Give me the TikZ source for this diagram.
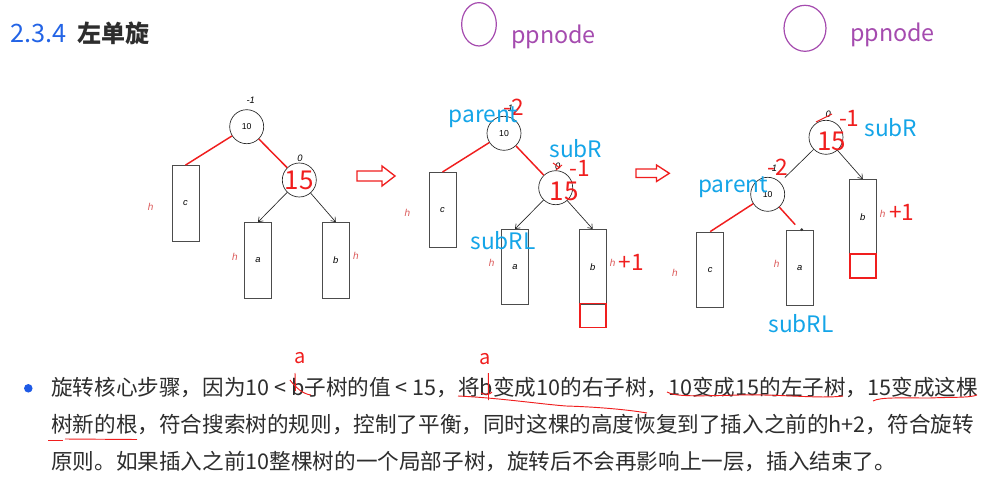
\documentclass[tikz,border=0pt]{standalone}
\usepackage{fontspec}
\setmainfont{Noto Sans CJK SC}
\newfontfamily\labfont{Liberation Sans}
\usetikzlibrary{arrows.meta,shapes.geometric}
\definecolor{txt}{RGB}{45,45,45}
\definecolor{titleblue}{RGB}{35,100,230}
\definecolor{sky}{RGB}{20,165,232}
\definecolor{ppl}{RGB}{165,75,175}
\definecolor{tred}{RGB}{240,30,30}
\definecolor{hred}{RGB}{220,90,90}
\definecolor{bullet}{RGB}{30,90,230}
\begin{document}
\begin{tikzpicture}[x=0.75pt,y=-0.75pt,
  circ/.style={circle, draw=black!85, line width=0.5pt, minimum size=25.5pt, inner sep=0pt, font=\labfont\fontsize{6.5}{7}\selectfont},
  sbox/.style={draw=black!70, line width=0.7pt, minimum width=20.3pt, minimum height=56.6pt, inner sep=0pt, font=\labfont\itshape\fontsize{7}{8}\selectfont},
  rsq/.style={draw=tred, line width=1.1pt, minimum width=19.5pt, minimum height=18pt, inner sep=0pt},
  hlab/.style={text=hred, inner sep=0pt, font=\labfont\itshape\fontsize{7.5}{8}\selectfont},
  bfl/.style={inner sep=0pt, font=\labfont\itshape\fontsize{7}{8}\selectfont},
  redl/.style={draw=tred, line width=1.1pt},
  blk/.style={draw=black!85, line width=0.5pt, -{Straight Barb[length=3pt,width=4.5pt]}},
  bigf/.style={text=tred, inner sep=0pt, font=\fontsize{19.5}{21}\selectfont},
  rnum/.style={text=tred, inner sep=0pt, font=\fontsize{17}{19}\selectfont},
  bluelab/.style={text=sky, inner sep=0pt, font=\fontsize{17}{19}\selectfont},
  pell/.style={ellipse, draw=ppl, line width=0.9pt, inner sep=0pt},
  pptext/.style={text=ppl, inner sep=0pt, font=\fontsize{17.5}{19}\selectfont},
  hollow/.style={draw=tred, line width=1pt, fill=white},
  redmark/.style={draw=tred, line width=0.7pt},
  body/.style={anchor=base west, inner sep=0pt, text=txt, font=\fontsize{16.2}{20}\selectfont}
]
\useasboundingbox (0,0) rectangle (983,493);
\fill[white] (0,0) rectangle (983,493);

% ---------- title ----------
\node[anchor=base west, inner sep=0pt, text=titleblue, font=\fontsize{19}{21}\selectfont] (tnum) at (10,42) {2.3.4};
\node[anchor=base west, inner sep=0pt, text=txt, font=\bfseries\fontsize{18}{21}\selectfont] (ttl) at (77,42) {左单旋};

% ---------- ppnode ----------
\node[pell, minimum width=26pt, minimum height=32.5pt] (pp1) at (479,24.3) {};
\node[pptext] (ppt1) at (553.5,37) {ppnode};
\node[pell, minimum width=31.5pt, minimum height=34.5pt] (pp2) at (805,28.3) {};
\node[pptext] (ppt2) at (892.5,35) {ppnode};

% ---------- tree 1 ----------
\node[circ] (t1p) at (246.7,126.7) {10};
\node[circ] (t1r) at (299.3,180) {};
\node[bigf] (t1rn) at (299.3,180) {15};
\node[sbox] (t1c) at (185.5,203.3) {c};
\node[sbox] (t1a) at (258,260.3) {a};
\node[sbox] (t1b) at (335.8,260.3) {b};
\node[bfl] (t1pf) at (250.7,100.7) {-1};
\node[bfl] (t1rf) at (300,158.7) {0};
\node[hlab] (t1hc) at (150.7,206.7) {h};
\node[hlab] (t1ha) at (235,256.7) {h};
\node[hlab] (t1hb) at (356,256) {h};
\draw[redl] (t1p) -- (t1c.north);
\draw[redl] (t1p) -- (t1r);
\draw[blk] (t1r) -- (t1a.north);
\draw[blk] (t1r) -- (t1b.north);

% arrow 1
\draw[hollow] (357,171) -- (382,171) -- (382,166) -- (395,176) -- (382,186) -- (382,181) -- (357,181) -- cycle;

% ---------- tree 2 ----------
\node[circ] (t2p) at (504,133.3) {10};
\node[circ] (t2r) at (555.7,187.7) {};
\node[bigf] (t2rn) at (564,191.5) {15};
\node[sbox] (t2c) at (442.5,210.2) {c};
\node[sbox] (t2a) at (515,267.2) {a};
\node[sbox] (t2b) at (592.7,267.2) {b};
\node[rsq] (t2x) at (593,315.3) {};
\node[bfl] (t2pf) at (509,108) {-1};
\node[rnum] (t2pn) at (514,107) {-2};
\node[bluelab] (t2pl) at (483.5,117) {parent};
\node[bfl] (t2rf) at (557.7,166) {0};
\draw[redmark] (553,163) -- (560,168) (556,170) -- (562,165);
\node[rnum] (t2rm) at (580,168) {-1};
\node[bluelab] (t2sr) at (576,149) {subR};
\node[bluelab] (t2srl) at (503,241) {subRL};
\node[hlab] (t2hc) at (407.3,213.3) {h};
\node[hlab] (t2ha) at (491.7,263.3) {h};
\node[hlab] (t2hb) at (612.7,263.3) {h};
\node[rnum] (t2plus) at (631,262.7) {+1};
\draw[redl] (t2p) -- (t2c.north);
\draw[redl] (t2p) -- (t2r);
\draw[blk] (t2r) -- (t2a.north);
\draw[blk] (t2r) -- (t2b.north);

% arrow 2
\draw[hollow] (636,169) -- (656.5,169) -- (656.5,165) -- (669.3,173.3) -- (656.5,181.5) -- (656.5,177.5) -- (636,177.5) -- cycle;

% ---------- tree 3 ----------
\node[circ] (t3r) at (826,137.3) {};
\node[bigf] (t3rn) at (831.7,141.5) {15};
\node[circ] (t3p) at (767.7,194.3) {10};
\node[sbox] (t3c) at (710.2,269.8) {c};
\node[sbox] (t3a) at (799.7,267.8) {a};
\node[sbox] (t3b) at (862.8,217.2) {b};
\node[rsq] (t3x) at (862.8,266) {};
\node[bfl] (t3rf) at (828.3,114) {0};
\draw[redmark] (816,122) -- (832,114);
\node[rnum] (t3rm) at (849.3,118.3) {-1};
\node[bluelab] (t3sr) at (891,127.5) {subR};
\node[bfl] (t3pf) at (773,168) {-1};
\node[rnum] (t3pn) at (778,167) {-2};
\node[bluelab] (t3pl) at (733,187) {parent};
\node[hlab] (t3hc) at (675,272.7) {h};
\node[hlab] (t3ha) at (776.7,264.3) {h};
\node[hlab] (t3hb) at (882.7,214) {h};
\node[rnum] (t3plus) at (901.7,212.7) {+1};
\node[bluelab] (t3srl) at (801,324) {subRL};
\draw[black!85, line width=0.5pt, shorten >=5pt] (t3r) -- (t3p);
\draw[blk] (t3r) -- (t3b.north);
\draw[redl] (t3p) -- (t3c.north);
\draw[redl, shorten >=5pt] (t3p) -- (t3a.north);
\fill[black!80] ([xshift=1.5pt]t3a.north) circle (1.1pt);

% ---------- body text ----------
\fill[bullet] (28.3,388.3) circle (3.2pt);
\node[body] (l1) at (51,395) {旋转核心步骤，因为10 < b子树的值 < 15，将b变成10的右子树，10变成15的左子树，15变成这棵};
\node[body] (l2) at (51,432) {树新的根，符合搜索树的规则，控制了平衡，同时这棵的高度恢复到了插入之前的h+2，符合旋转};
\node[body] (l3) at (51,469) {原则。如果插入之前10整棵树的一个局部子树，旋转后不会再影响上一层，插入结束了。};

% ---------- hand annotations on text ----------
\node[text=tred, inner sep=0pt, font=\fontsize{15}{16}\selectfont] (an1) at (300,358) {a};
\node[text=tred, inner sep=0pt, font=\fontsize{15}{16}\selectfont] (an2) at (485,359) {a};
\draw[redmark] (295,373) -- (295.5,391);
\draw[redmark] (290,380) .. controls (296,388) and (303,394) .. (311,395);
\draw[redmark] (488.3,373) -- (488.5,400);
\draw[redmark] (481,393) .. controls (485,395) and (490,395) .. (492,392);
\draw[redmark] (458,396) .. controls (500,398) and (540,404) .. (566,406) .. controls (600,407) and (630,410) .. (647,413);
\draw[redmark] (667,392) .. controls (675,397) and (700,396) .. (740,395) .. controls (780,394) and (820,399) .. (843,396);
\draw[redmark] (873,401) .. controls (880,397) and (900,398) .. (930,398) .. controls (950,397) and (970,398) .. (977,395);
\draw[redmark] (48,440) -- (63,440);
\draw[redmark] (65,439) -- (137,439.5);
\end{tikzpicture}
\end{document}
